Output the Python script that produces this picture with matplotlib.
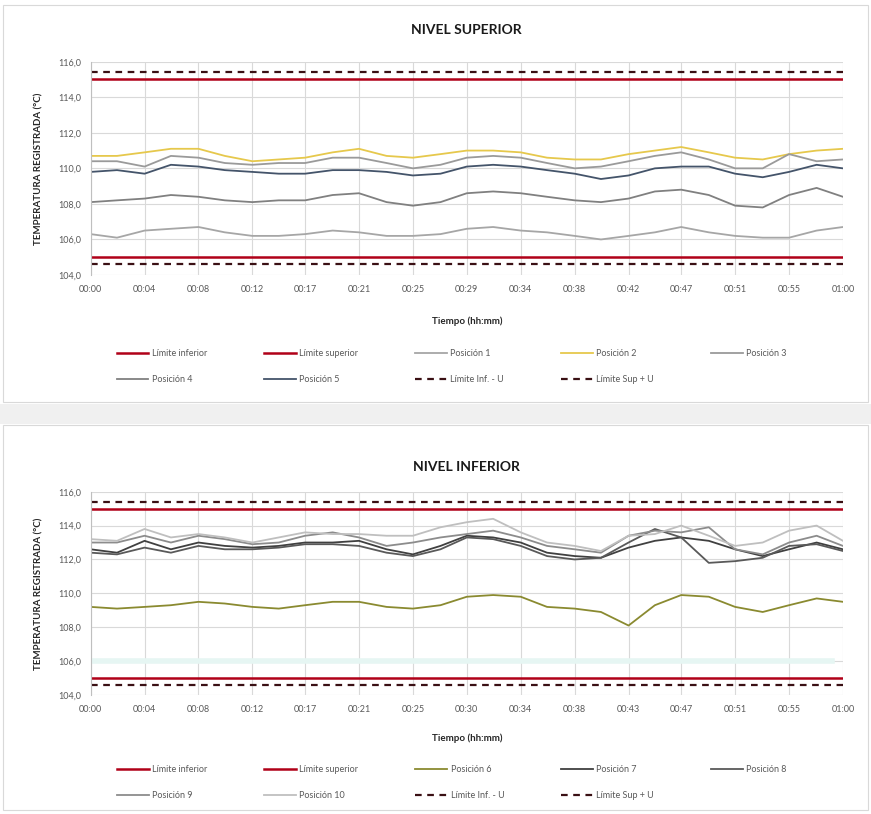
import numpy as np
import matplotlib
matplotlib.use("Agg")
import matplotlib.pyplot as plt
from matplotlib.patches import Rectangle

plt.rcParams['font.family'] = ['Lato', 'DejaVu Sans']

# tiempo (minutos) de cada lectura
minutos = [0, 2.1, 4.3, 6.4, 8.6, 10.7, 12.9, 15.0, 17.1, 19.3, 21.4, 23.6, 25.7, 27.9,
           30.0, 32.1, 34.3, 36.4, 38.6, 40.7, 42.9, 45.0, 47.1, 49.3, 51.4, 53.6, 55.7, 57.9, 60.0]
ticks_min = [0, 4.3, 8.6, 12.9, 17.1, 21.4, 25.7, 30.0, 34.3, 38.6, 42.9, 47.1, 51.4, 55.7, 60.0]
etiquetas_sup = ["00:00", "00:04", "00:08", "00:12", "00:17", "00:21", "00:25", "00:29",
                 "00:34", "00:38", "00:42", "00:47", "00:51", "00:55", "01:00"]
etiquetas_inf = ["00:00", "00:04", "00:08", "00:12", "00:17", "00:21", "00:25", "00:30",
                 "00:34", "00:38", "00:43", "00:47", "00:51", "00:55", "01:00"]
y_ticks = [104, 106, 108, 110, 112, 114, 116]

lim_inf = 105.0
lim_sup = 115.0
lim_inf_u = 104.6
lim_sup_u = 115.4
banda_inf = 106.0  # franja clara visible en el nivel inferior

# NIVEL SUPERIOR
sup_pos1 = [106.3, 106.1, 106.5, 106.6, 106.7, 106.4, 106.2, 106.2, 106.3, 106.5, 106.4, 106.2, 106.2, 106.3,
            106.6, 106.7, 106.5, 106.4, 106.2, 106.0, 106.2, 106.4, 106.7, 106.4, 106.2, 106.1, 106.1, 106.5, 106.7]
sup_pos2 = [110.7, 110.7, 110.9, 111.1, 111.1, 110.7, 110.4, 110.5, 110.6, 110.9, 111.1, 110.7, 110.6, 110.8,
            111.0, 111.0, 110.9, 110.6, 110.5, 110.5, 110.8, 111.0, 111.2, 110.9, 110.6, 110.5, 110.8, 111.0, 111.1]
sup_pos3 = [110.4, 110.4, 110.1, 110.7, 110.6, 110.3, 110.2, 110.3, 110.3, 110.6, 110.6, 110.3, 110.0, 110.2,
            110.6, 110.7, 110.6, 110.3, 110.0, 110.1, 110.4, 110.7, 110.9, 110.5, 110.0, 110.0, 110.8, 110.4, 110.5]
sup_pos4 = [108.1, 108.2, 108.3, 108.5, 108.4, 108.2, 108.1, 108.2, 108.2, 108.5, 108.6, 108.1, 107.9, 108.1,
            108.6, 108.7, 108.6, 108.4, 108.2, 108.1, 108.3, 108.7, 108.8, 108.5, 107.9, 107.8, 108.5, 108.9, 108.4]
sup_pos5 = [109.8, 109.9, 109.7, 110.2, 110.1, 109.9, 109.8, 109.7, 109.7, 109.9, 109.9, 109.8, 109.6, 109.7,
            110.1, 110.2, 110.1, 109.9, 109.7, 109.4, 109.6, 110.0, 110.1, 110.1, 109.7, 109.5, 109.8, 110.2, 110.0]

# NIVEL INFERIOR
inf_pos6 = [109.2, 109.1, 109.2, 109.3, 109.5, 109.4, 109.2, 109.1, 109.3, 109.5, 109.5, 109.2, 109.1, 109.3,
            109.8, 109.9, 109.8, 109.2, 109.1, 108.9, 108.1, 109.3, 109.9, 109.8, 109.2, 108.9, 109.3, 109.7, 109.5]
inf_pos7 = [112.6, 112.4, 113.1, 112.6, 113.0, 112.8, 112.7, 112.8, 113.0, 113.0, 113.1, 112.6, 112.3, 112.8,
            113.4, 113.3, 113.0, 112.4, 112.2, 112.1, 112.7, 113.1, 113.3, 113.1, 112.6, 112.2, 112.6, 113.0, 112.6]
inf_pos8 = [112.4, 112.3, 112.7, 112.4, 112.8, 112.6, 112.6, 112.7, 112.9, 112.9, 112.8, 112.4, 112.2, 112.6,
            113.3, 113.2, 112.8, 112.2, 112.0, 112.1, 113.0, 113.8, 113.3, 111.8, 111.9, 112.1, 112.8, 112.9, 112.5]
inf_pos9 = [113.0, 113.0, 113.4, 113.0, 113.4, 113.2, 112.9, 113.0, 113.4, 113.6, 113.3, 112.8, 113.0, 113.3,
            113.5, 113.7, 113.3, 112.8, 112.6, 112.4, 113.4, 113.7, 113.6, 113.9, 112.6, 112.3, 113.0, 113.4, 112.8]
inf_pos10 = [113.2, 113.1, 113.8, 113.3, 113.5, 113.3, 113.0, 113.3, 113.6, 113.5, 113.5, 113.4, 113.4, 113.9,
             114.2, 114.4, 113.6, 113.0, 112.8, 112.5, 113.4, 113.5, 114.0, 113.4, 112.8, 113.0, 113.7, 114.0, 113.1]

rojo = "#B00018"
oscuro = "#3A1014"
gris_txt = "#595959"


def dibujar(ax, titulo, series, etiquetas_x, pad_titulo, banda=None):
    ax.set_xlim(0, 60)
    ax.set_ylim(104, 116)
    ax.set_xticks(ticks_min)
    ax.set_xticklabels(etiquetas_x)
    ax.set_yticks(y_ticks)
    ax.set_yticklabels([f"{v:.1f}".replace(".", ",") for v in y_ticks])
    ax.grid(True, color="#D9D9D9", lw=0.8)
    ax.set_axisbelow(True)
    for s in ["top", "right", "bottom"]:
        ax.spines[s].set_visible(False)
    ax.spines["left"].set_color("#BFBFBF")
    ax.tick_params(axis="both", length=0, labelsize=6.5, colors=gris_txt, pad=7)

    if banda is not None:
        ax.plot([0, 59.1], [banda, banda], color="#E6F6F3", lw=4, zorder=1)

    handles = []
    h1, = ax.plot([0, 60], [lim_inf, lim_inf], color=rojo, lw=1.8, label="Límite inferior")
    h2, = ax.plot([0, 60], [lim_sup, lim_sup], color=rojo, lw=1.8, label="Límite superior")
    handles += [h1, h2]
    for nombre, valores, color in series:
        h, = ax.plot(minutos, valores, color=color, lw=1.3, label=nombre)
        handles.append(h)
    h8, = ax.plot([0, 60], [lim_inf_u, lim_inf_u], color=oscuro, lw=1.6, ls=(0, (3, 2.5)),
                  label="Límite Inf. - U")
    h9, = ax.plot([0, 60], [lim_sup_u, lim_sup_u], color=oscuro, lw=1.6, ls=(0, (3, 2.5)),
                  label="Límite Sup + U")
    handles += [h8, h9]

    ax.set_ylabel("TEMPERATURA REGISTRADA (°C)", fontsize=7, fontweight="bold", color="#262626")
    ax.yaxis.set_label_coords(-0.063, 0.5)
    ax.set_xlabel("Tiempo (hh:mm)", fontsize=7, fontweight="bold", color="#262626")
    ax.xaxis.set_label_coords(0.5, -0.195)
    ax.set_title(titulo, fontsize=10, fontweight="bold", color="#1A1A1A", pad=pad_titulo)

    orden = [0, 5, 1, 6, 2, 7, 3, 8, 4]
    hs = [handles[i] for i in orden]
    ax.legend(hs, [h.get_label() for h in hs], ncol=5, loc="center",
              bbox_to_anchor=(0.48, -0.43), frameon=False, fontsize=6.5,
              labelcolor=gris_txt, handlelength=3.5, columnspacing=6.3,
              handletextpad=0.4, labelspacing=1.9)


fig = plt.figure(figsize=(8.71, 8.14), dpi=100)
fig.patch.set_facecolor("white")

# marcos de los dos gráficos y franja separadora
fig.add_artist(Rectangle((0.004, 1 - 402 / 814), 0.992, 397 / 814, transform=fig.transFigure,
                         fill=False, edgecolor="#D9D9D9", lw=0.8))
fig.add_artist(Rectangle((0.0, 1 - 424 / 814), 1.0, 20 / 814, transform=fig.transFigure,
                         facecolor="#F0F0F0", edgecolor="none"))
fig.add_artist(Rectangle((0.004, 1 - 810 / 814), 0.992, 385 / 814, transform=fig.transFigure,
                         fill=False, edgecolor="#D9D9D9", lw=0.8))

ax1 = fig.add_axes([0.1041, 1 - 275 / 814, 0.8637, 213.3 / 814])
dibujar(ax1, "NIVEL SUPERIOR", [
    ("Posición 1", sup_pos1, "#A6A6A6"),
    ("Posición 2", sup_pos2, "#E6C84C"),
    ("Posición 3", sup_pos3, "#9A9A9A"),
    ("Posición 4", sup_pos4, "#808080"),
    ("Posición 5", sup_pos5, "#44546A"),
], etiquetas_sup, 20)

ax2 = fig.add_axes([0.1041, 1 - 695 / 814, 0.8637, 203.3 / 814])
dibujar(ax2, "NIVEL INFERIOR", [
    ("Posición 6", inf_pos6, "#8A8A30"),
    ("Posición 7", inf_pos7, "#404040"),
    ("Posición 8", inf_pos8, "#595959"),
    ("Posición 9", inf_pos9, "#8C8C8C"),
    ("Posición 10", inf_pos10, "#BFBFBF"),
], etiquetas_inf, 15, banda=banda_inf)
ax2.xaxis.set_label_coords(0.5, -0.19)

fig.savefig("out.png", dpi=100)
